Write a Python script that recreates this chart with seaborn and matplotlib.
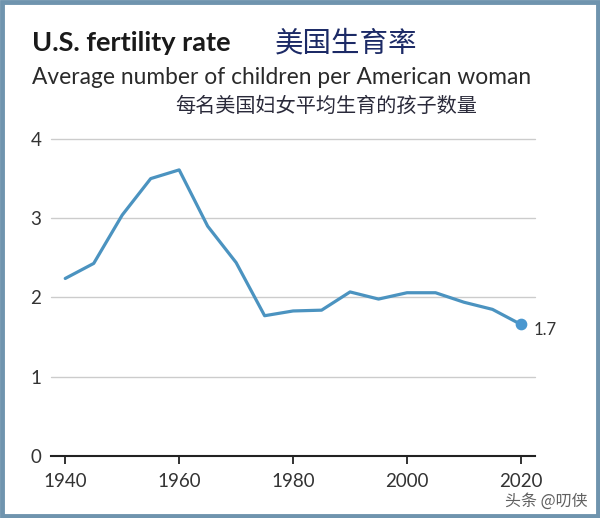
import matplotlib
matplotlib.use("Agg")
import matplotlib.pyplot as plt
import seaborn as sns
import pandas as pd
from matplotlib.patches import Rectangle

years = [1940, 1945, 1950, 1955, 1960, 1965, 1970, 1975, 1980, 1985,
         1990, 1995, 2000, 2005, 2010, 2015, 2020]
rates = [2.24, 2.43, 3.04, 3.50, 3.61, 2.90, 2.44, 1.77, 1.83, 1.84,
         2.07, 1.98, 2.06, 2.06, 1.94, 1.85, 1.66]
x_ticks = [1940, 1960, 1980, 2000, 2020]
y_ticks = [0, 1, 2, 3, 4]
end_label = "1.7"

title_en = "U.S. fertility rate"
title_zh = "美国生育率"
subtitle_en = "Average number of children per American woman"
subtitle_zh = "每名美国妇女平均生育的孩子数量"
watermark = "头条 @叨侠"

df = pd.DataFrame({"year": years, "rate": rates})

sns.set_theme(style="white")
plt.rcParams['font.family'] = ['Lato', 'Noto Sans CJK SC', 'DejaVu Sans']

fig = plt.figure(figsize=(6, 5.18), dpi=100)
ax = fig.add_axes([0.085, 0.1197, 0.807, 0.612])

line_color = "#4b93c0"
sns.lineplot(data=df, x="year", y="rate", ax=ax, color=line_color,
             linewidth=2.3, zorder=3)
ax.scatter([years[-1]], [rates[-1]], s=55, color="#4a97cf", zorder=4,
           clip_on=False)
ax.annotate(end_label, (years[-1], rates[-1]), xytext=(9, -4),
            textcoords="offset points", ha="left", va="center",
            fontsize=12, color="#333333")

ax.set_xlim(1937.5, 2022.5)
ax.set_ylim(0, 4)
ax.set_xticks(x_ticks)
ax.set_yticks(y_ticks)
ax.set_xlabel("")
ax.set_ylabel("")

for v in y_ticks[1:]:
    ax.axhline(v, color="#cccccc", linewidth=1.0, zorder=1, clip_on=False)

for s in ["top", "right", "left"]:
    ax.spines[s].set_visible(False)
ax.spines["bottom"].set_color("#222222")
ax.spines["bottom"].set_linewidth(1.5)
ax.spines["bottom"].set_zorder(5)

ax.tick_params(axis="x", which="major", direction="out", length=6, width=1.3,
               color="#222222", labelsize=13.5, labelcolor="#333333", pad=6,
               bottom=True)
ax.tick_params(axis="y", length=0, labelsize=13.5, labelcolor="#333333", pad=7)

fig.text(32 / 600, 1 - 43 / 518, title_en, fontsize=19.5, fontweight="bold",
         color="#1a1a1a", ha="left", va="center")
fig.text(275 / 600, 1 - 43 / 518, title_zh, fontsize=20.5,
         color="#1c2a66", ha="left", va="center",
         family=["Noto Sans CJK SC", "DejaVu Sans"])
fig.text(32 / 600, 1 - 78 / 518, subtitle_en, fontsize=16.4,
         color="#2a2a2a", ha="left", va="center")
fig.text(175 / 600, 1 - 106 / 518, subtitle_zh, fontsize=14.5,
         color="#2a2a3a", ha="left", va="center",
         family=["Noto Sans CJK SC", "DejaVu Sans"])
fig.text(505 / 600, 1 - 501 / 518, watermark, fontsize=11.5,
         color="#444444", ha="left", va="center", alpha=0.85,
         family=["Noto Sans CJK SC", "DejaVu Sans"])

fig.patches.append(Rectangle((0.003, 0.004), 0.993, 0.992,
                             transform=fig.transFigure, fill=False,
                             edgecolor="#6f94ae", linewidth=3.5))

fig.savefig("out.png", dpi=100, facecolor="white")
